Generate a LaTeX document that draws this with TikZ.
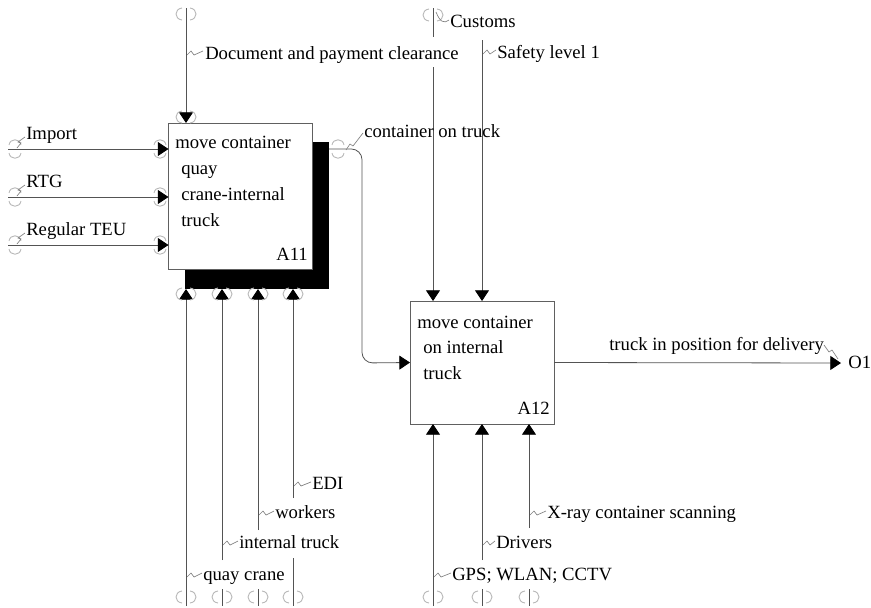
\documentclass[tikz,border=0pt]{standalone}
\usepackage{fontspec}
\setmainfont{Liberation Serif}
\usetikzlibrary{arrows.meta}
\newcommand\vtun[1]{\draw[tun,shift={(#1)}] (-4,-6) .. controls (-12,-5) and (-12,5) .. (-4,6) (4,-6) .. controls (12,-5) and (12,5) .. (4,6);}
\newcommand\htun[1]{\draw[tun,shift={(#1)}] (-6,-4) .. controls (-5,-11) and (5,-11) .. (6,-4) (-6,4) .. controls (-5,11) and (5,11) .. (6,4);}
\newcommand\sqg[2]{\draw[squig,shift={(#1)}] (1,2) -- (5,-2) -- (8,2) -- (#2,-2);}
\begin{document}
\begin{tikzpicture}[x=0.75pt,y=-0.75pt,
  lbl/.style={font=\fontsize{14}{16}\selectfont, inner sep=0pt, anchor=base west},
  rlbl/.style={font=\fontsize{14}{16}\selectfont, inner sep=0pt, anchor=base east},
  proc/.style={draw=gray!75!black, line width=0.6pt, fill=white, inner sep=0pt, outer sep=0pt, minimum width=108pt},
  conn/.style={draw=gray!65!black, line width=0.6pt},
  arr/.style={conn, -{Triangle[length=8pt,width=10.5pt,color=black,fill=black]}},
  squig/.style={draw=gray, line width=0.5pt},
  tun/.style={draw=gray!55, line width=0.7pt},
]
\useasboundingbox (0,0) rectangle (871,607);
% shadow and boxes
\fill[black] (185,142) rectangle (329,289);
\node[proc, minimum height=109.5pt] (A11) at (240.5,196) {};
\node[proc, minimum height=92.25pt] (A12) at (482,362.5) {};
% box texts
\node[lbl] (t11a) at (175,148) {move container};
\node[lbl] (t11b) at (181,174) {quay};
\node[lbl] (t11c) at (181,200) {crane-internal};
\node[lbl] (t11d) at (181,226) {truck};
\node[rlbl] (n11) at (308,260) {A11};
\node[lbl] (t12a) at (417,328) {move container};
\node[lbl] (t12b) at (423,353) {on internal};
\node[lbl] (t12c) at (423,379) {truck};
\node[rlbl] (n12) at (550,414) {A12};

% coordinates of free ends
\coordinate (docS) at (186,8);
\coordinate (impS) at (8,149);
\coordinate (rtgS) at (8,197);
\coordinate (teuS) at (8,245);
\coordinate (cusS) at (433,8);
\coordinate (cusA) at (433,37);
\coordinate (cusB) at (433,67);
\coordinate (safS) at (482,40);
\coordinate (o1s) at (329,149);
\coordinate (o1e) at (841,363);
\coordinate (shB) at (186,289);

% controls
\draw[arr] (docS) -- (docS |- A11.north);
\draw[conn] (cusS) -- (cusA);
\draw[arr] (cusB) -- (cusB |- A12.north);
\draw[arr] (safS) -- (safS |- A12.north);
% inputs
\draw[arr] (impS) -- (impS -| A11.west);
\draw[arr] (rtgS) -- (rtgS -| A11.west);
\draw[arr] (teuS) -- (teuS -| A11.west);
% outputs
\draw[arr, rounded corners=8pt] (o1s) -- (362,149) -- (362,363) -- (A12.west);
\draw[arr] (A12.east) -- (o1e);
% mechanisms A11
\coordinate (m1) at (186,606); \coordinate (m2) at (222,560);
\coordinate (m3) at (258,530); \coordinate (m4) at (293,498);
\draw[arr] (m1) -- (m1 |- shB);
\draw[arr] (m2) -- (m2 |- shB);
\draw[arr] (m3) -- (m3 |- shB);
\draw[arr] (m4) -- (m4 |- shB);
\draw[conn] (222,589) -- (222,606);
\draw[conn] (258,589) -- (258,606);
\draw[conn] (293,558) -- (293,606);
% mechanisms A12
\coordinate (k1) at (433,606); \coordinate (k2) at (482,560); \coordinate (k3) at (529,528);
\draw[arr] (k1) -- (k1 |- A12.south);
\draw[arr] (k2) -- (k2 |- A12.south);
\draw[arr] (k3) -- (k3 |- A12.south);
\draw[conn] (482,589) -- (482,606);
\draw[conn] (529,589) -- (529,606);

% tunnels
\vtun{186,14}
\vtun{186,117}
\vtun{433,15}
\htun{15,149} \htun{15,197} \htun{15,245}
\htun{160,149} \htun{160,197} \htun{160,245}
\htun{338,149}
\vtun{186,294} \vtun{222,294} \vtun{258,294} \vtun{293,294}
\foreach \x in {186,222,258,293,433,482,529} {\vtun{\x,597}}

% labels
\node[lbl] (ldoc) at (205,59) {Document and payment clearance};
\node[lbl] (lcus) at (450,27) {Customs};
\node[lbl] (lsaf) at (497,58) {Safety level 1};
\node[lbl] (limp) at (26,139) {Import};
\node[lbl] (lrtg) at (26,187) {RTG};
\node[lbl] (lteu) at (26,235) {Regular TEU};
\node[lbl] (lcot) at (364,137) {container on truck};
\node[lbl] (ltip) at (609,350) {truck in position for delivery};
\node[lbl] (lo1) at (848,368) {O1};
\node[lbl] (ledi) at (312,489) {EDI};
\node[lbl] (lwor) at (275,518) {workers};
\node[lbl] (lint) at (239,548) {internal truck};
\node[lbl] (lqua) at (203,580) {quay crane};
\node[lbl] (lxra) at (547,518) {X-ray container scanning};
\node[lbl] (ldri) at (496,548) {Drivers};
\node[lbl] (lgps) at (452,580) {GPS; WLAN; CCTV};

% squiggles
\sqg{186,53}{17}
\sqg{482,52}{14}
\sqg{293,484}{18}
\sqg{258,513}{16}
\sqg{222,543}{16}
\sqg{186,575}{16}
\sqg{529,513}{17}
\sqg{482,543}{13}
\sqg{433,575}{18}
\draw[squig] (436,12) .. controls (440,22) and (444,24) .. (449,20);
\foreach \y in {149,197,245} {\draw[squig] (17,\y-1) -- (21,\y-6) -- (18,\y-7) -- (25,\y-12);}
\draw[squig] (346,150) -- (350,144) -- (353,146) -- (363,133);
\draw[squig] (824,345) -- (829,352) -- (832,350) -- (838,359);
\end{tikzpicture}
\end{document}
